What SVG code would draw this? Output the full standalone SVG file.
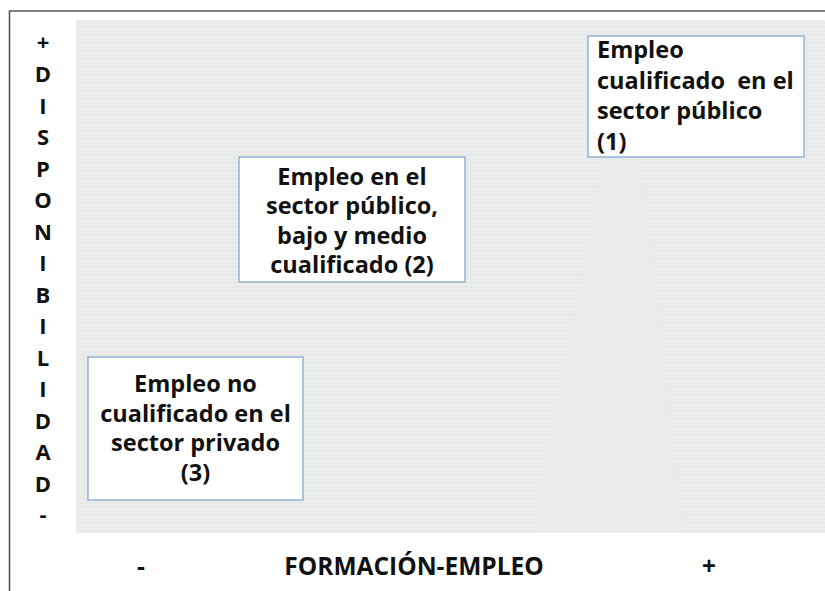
<svg xmlns="http://www.w3.org/2000/svg" width="825" height="591" viewBox="0 0 825 591">
<defs>
<pattern id="dots" width="4" height="4" patternUnits="userSpaceOnUse">
<rect width="4" height="4" fill="#e8e9e9"/>
<circle cx="1" cy="1" r="0.7" fill="#ffffff" fill-opacity="0.65"/>
</pattern>
<style>
.t{font-family:"Open Sans",Lato,"Liberation Sans",sans-serif;font-weight:bold;font-size:23.5px;fill:#111;}
.a{font-size:22px;}
.x{font-size:24.5px;}
.c{text-anchor:middle;}
.box{fill:#ffffff;stroke:#94b3cf;stroke-width:1.5;}
</style>
</defs>
<rect width="825" height="591" fill="#ffffff"/>
<path d="M9.5 591 V11 H825" fill="none" stroke="#555" stroke-width="1.6"/>
<rect x="76" y="20" width="749" height="513" fill="url(#dots)"/>
<path d="M535 533 C542 470 558 400 573 330 C586 270 596 200 606 160 L636 160 C646 220 656 300 664 380 C670 450 676 500 684 533 Z" fill="#eaebeb"/>
<g id="axis-y" class="t a c">
<text x="43" y="50">+</text>
<text x="43" y="82">D</text>
<text x="43" y="113.5">I</text>
<text x="43" y="145">S</text>
<text x="43" y="176.5">P</text>
<text x="43" y="208">O</text>
<text x="43" y="239.5">N</text>
<text x="43" y="271">I</text>
<text x="43" y="302.5">B</text>
<text x="43" y="334">I</text>
<text x="43" y="365.5">L</text>
<text x="43" y="397">I</text>
<text x="43" y="428.5">D</text>
<text x="43" y="460">A</text>
<text x="43" y="491.5">D</text>
<text x="43" y="522">-</text>
</g>
<g id="axis-x" class="t x c">
<text x="141" y="575">-</text>
<text x="414" y="575">FORMACIÓN-EMPLEO</text>
<text x="709" y="575">+</text>
</g>
<g id="node1">
<rect class="box" x="588" y="36" width="216" height="121"/>
<text class="t" x="597" y="58">Empleo</text>
<text class="t" x="597" y="89" xml:space="preserve">cualificado  en el</text>
<text class="t" x="597" y="119">sector público</text>
<text class="t" x="597" y="150">(1)</text>
</g>
<g id="node2">
<rect class="box" x="239" y="157" width="226" height="125"/>
<text class="t c" x="352" y="185">Empleo en el</text>
<text class="t c" x="352" y="214">sector público,</text>
<text class="t c" x="352" y="244">bajo y medio</text>
<text class="t c" x="352" y="273">cualificado (2)</text>
</g>
<g id="node3">
<rect class="box" x="88" y="357" width="215" height="143"/>
<text class="t c" x="195.5" y="392">Empleo no</text>
<text class="t c" x="195.5" y="422">cualificado en el</text>
<text class="t c" x="195.5" y="451">sector privado</text>
<text class="t c" x="195.5" y="481">(3)</text>
</g>
<g id="connectors"></g>
</svg>
